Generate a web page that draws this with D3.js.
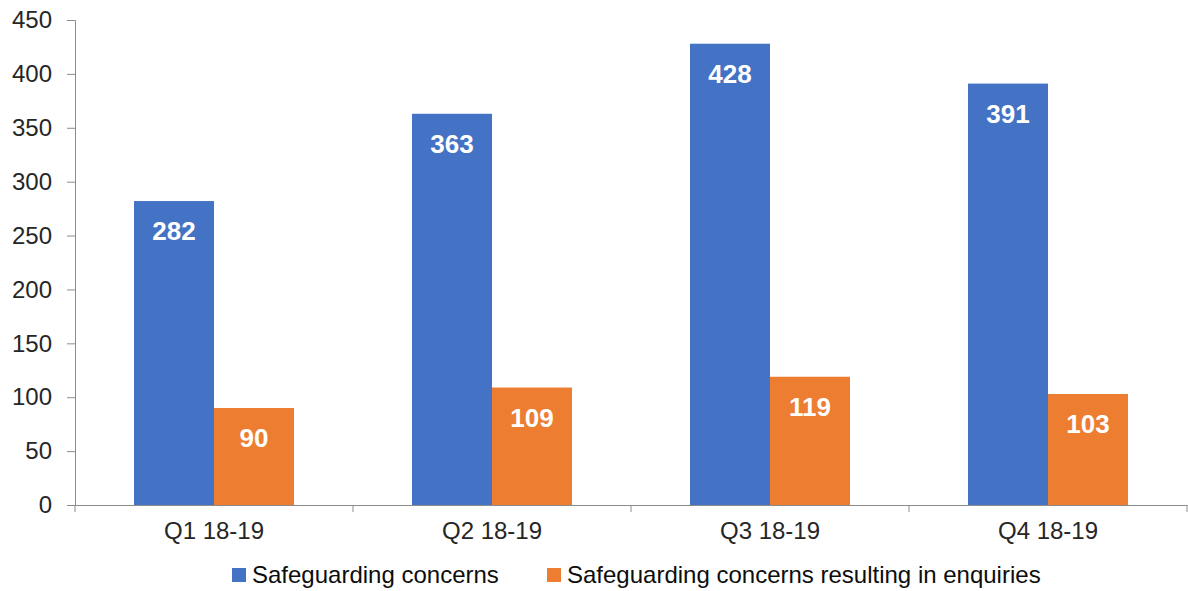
<!DOCTYPE html>
<html><head><meta charset="utf-8">
<script src="https://cdn.jsdelivr.net/npm/d3@7"></script>
<style>body{margin:0;background:#fff}svg text{font-family:"Liberation Sans",Arial,sans-serif}</style>
</head><body><svg id="c" width="1188" height="591"></svg>
<script>
const categories = ["Q1 18-19","Q2 18-19","Q3 18-19","Q4 18-19"];
const seriesNames = ["Safeguarding concerns","Safeguarding concerns resulting in enquiries"];
const concerns = [282,363,428,391];
const enquiries = [90,109,119,103];
const yTicks = [0,50,100,150,200,250,300,350,400,450];
const colors = ["#4472C4","#ED7D31"];

(function(){
const svg = d3.select("#c");
const mL=75, mR=1187, mT=20, mB=505;
const x = d3.scaleBand().domain(categories).range([mL,mR]).paddingInner(0).paddingOuter(0);
const y = d3.scaleLinear().domain([0,450]).range([mB,mT]);
const inner = d3.scaleBand().domain([0,1]).range([0,x.bandwidth()]).paddingInner(0);
inner.paddingOuter((x.bandwidth()-160)/2/80);

const series=[concerns,enquiries];
series.forEach((vals,si)=>{
  const g=svg.append("g");
  g.selectAll("rect").data(vals).enter().append("rect")
    .attr("x",(d,i)=>x(categories[i])+inner(si))
    .attr("width",inner.bandwidth())
    .attr("y",d=>y(d)).attr("height",d=>y(0)-y(d))
    .attr("fill",colors[si]);
  g.selectAll("text").data(vals).enter().append("text")
    .attr("x",(d,i)=>x(categories[i])+inner(si)+inner.bandwidth()/2)
    .attr("y",d=>y(d)+39)
    .attr("text-anchor","middle").attr("fill","#fff")
    .attr("font-weight","bold").attr("font-size",26).text(d=>d);
});

const axisColor="#8c8c8c";
const ya=svg.append("g").attr("transform",`translate(${mL},0)`)
  .call(d3.axisLeft(y).tickValues(yTicks).tickSize(8).tickPadding(15).tickFormat(d3.format("d")));
ya.select(".domain").attr("stroke",axisColor);
ya.selectAll(".tick line").attr("stroke",axisColor);
ya.selectAll(".tick text").attr("font-size",24).attr("fill","#262626").attr("font-family","Liberation Sans, Arial, sans-serif");

const xa=svg.append("g").attr("transform",`translate(0,${mB})`)
  .call(d3.axisBottom(x).tickSize(0).tickPadding(17));
xa.select(".domain").attr("stroke",axisColor);
xa.selectAll(".tick text").attr("font-size",24).attr("fill","#262626").attr("font-family","Liberation Sans, Arial, sans-serif");
const bounds=categories.map(c=>x(c)).concat([mR]);
svg.append("g").selectAll("line").data(bounds).enter().append("line")
  .attr("x1",d=>d).attr("x2",d=>d).attr("y1",mB).attr("y2",mB+7).attr("stroke",axisColor);

const legX=[232,547];
seriesNames.forEach((n,i)=>{
  svg.append("rect").attr("x",legX[i]).attr("y",568).attr("width",14).attr("height",14).attr("fill",colors[i]);
  svg.append("text").attr("x",legX[i]+20).attr("y",583).attr("font-size",24).attr("fill","#0d0d0d").text(n);
});
})();
</script></body></html>
